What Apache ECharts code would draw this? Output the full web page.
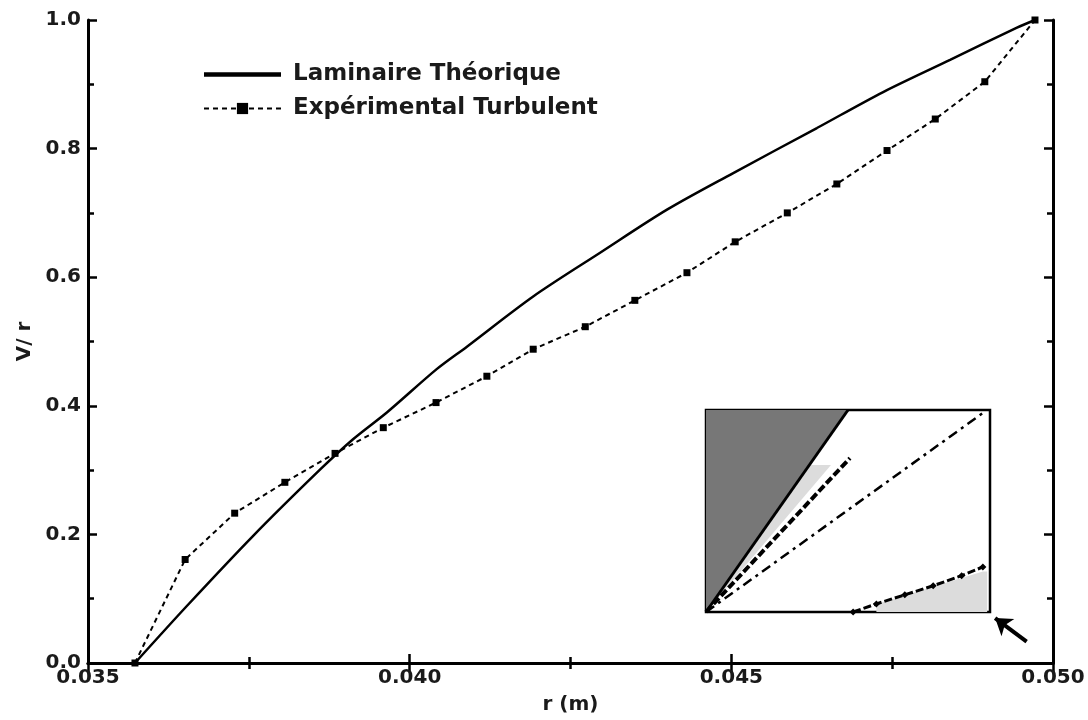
<!DOCTYPE html>
<html><head><meta charset="utf-8">
<script src="https://cdn.jsdelivr.net/npm/echarts@6/dist/echarts.min.js"></script>
<style>html,body{margin:0;padding:0;background:#fff}#c{width:1088px;height:720px}</style>
</head><body><div id="c"></div>
<script>
// ---- main chart data ----
const lamR = [0.03573, 0.03654, 0.03756, 0.03861, 0.03912, 0.03965, 0.04042, 0.04089, 0.04192, 0.04296, 0.04400, 0.04503, 0.04633, 0.04736, 0.04840, 0.04944, 0.04972];
const lamV = [0.000, 0.089, 0.197, 0.301, 0.348, 0.390, 0.457, 0.492, 0.570, 0.638, 0.705, 0.762, 0.832, 0.888, 0.938, 0.988, 1.000];
const expR = [0.03573, 0.03651, 0.03728, 0.03806, 0.03884, 0.03959, 0.04041, 0.04120, 0.04192, 0.04273, 0.04350, 0.04431, 0.04506, 0.04587, 0.04664, 0.04742, 0.04817, 0.04894, 0.04972];
const expV = [0.000, 0.161, 0.233, 0.281, 0.326, 0.366, 0.405, 0.446, 0.488, 0.523, 0.564, 0.607, 0.655, 0.700, 0.745, 0.797, 0.846, 0.904, 1.000];
const seriesNames = ['Laminaire Théorique', 'Expérimental Turbulent'];
const axisNames = { x: 'r (m)', y: 'V/ r' };

// ---- inset (schematic) data, in inset units 0..1 ----
const insetDarkWedge = [[0, 0], [0, 1], [0.5, 1]];
const insetSolidLine = [[0, 0], [0.5, 1]];
const insetLightWedge = [[0, 0], [0.364, 0.728], [0.44, 0.728]];
const insetMarkerLine = [[0, 0], [0.507, 0.762]];
const insetDashDot = [[0, 0], [0.975, 0.985]];
const insetBottomLine = [[0.518, 0], [0.6, 0.04], [0.7, 0.085], [0.8, 0.13], [0.9, 0.18], [0.975, 0.223]];
const insetCornerFill = [[0.6, 0], [0.6, 0.04], [0.975, 0.2], [0.99, 0.2], [0.99, 0]];
const arrowCoords = [[1.129, -0.147], [1.018, -0.03]];

const FONT = 'DejaVu Sans';
const txt = { fontFamily: FONT, fontWeight: 'bold', fontSize: 20, color: '#1a1a1a' };
const zip = (a, b) => a.map((v, i) => [v, b[i]]);

function polySeries(pts, color, z) {
  return {
    type: 'custom', xAxisIndex: 2, yAxisIndex: 2, silent: true, z: z,
    data: pts,
    renderItem: function (params, api) {
      if (params.dataIndex !== 0) return null;
      return { type: 'polygon', shape: { points: pts.map(p => api.coord(p)) }, style: { fill: color } };
    }
  };
}

const frameAxis = (extra) => Object.assign({
  type: 'value', gridIndex: 0,
  axisLine: { show: true, lineStyle: { color: '#000', width: 3 } },
  axisTick: { show: true, inside: true, length: 9, lineStyle: { color: '#000', width: 2.5 } },
  minorTick: { show: true, splitNumber: 2, length: 6, lineStyle: { color: '#000', width: 2.5 } },
  splitLine: { show: false }, minorSplitLine: { show: false }
}, extra);

const chart = echarts.init(document.getElementById('c'), null, { renderer: 'canvas' });
chart.setOption({
  animation: false,
  backgroundColor: '#fff',
  grid: [
    { left: 88, right: 35, top: 20, bottom: 56, show: false },
    { left: 706, top: 410, width: 284, height: 202, show: true, backgroundColor: '#fff', borderColor: '#000', borderWidth: 2.5, z: 3 }
  ],
  legend: {
    orient: 'vertical', left: 198, top: 58, itemWidth: 77, itemHeight: 14, itemGap: 11,
    textStyle: { fontFamily: FONT, fontWeight: 'bold', fontSize: 23, color: '#1a1a1a', lineHeight: 20, padding: [0, 0, 0, 7] },
    data: [
      { name: seriesNames[0], icon: 'path://M0,0H77V4.5H0Z' },
      { name: seriesNames[1], lineStyle: { width: 2, color: '#000', type: [5, 4] } }
    ]
  },
  xAxis: [
    frameAxis({ min: 0.035, max: 0.050, interval: 0.005, position: 'bottom',
      axisLabel: Object.assign({ margin: 5, formatter: v => v.toFixed(3) }, txt),
      name: axisNames.x, nameLocation: 'middle', nameGap: 32, nameTextStyle: txt }),
    frameAxis({ min: 0.035, max: 0.050, interval: 0.005, position: 'top', axisLabel: { show: false } }),
    { type: 'value', gridIndex: 1, min: 0, max: 1, show: false }
  ],
  yAxis: [
    frameAxis({ min: 0, max: 1, interval: 0.2, position: 'left',
      axisLabel: Object.assign({ margin: 7, formatter: v => v.toFixed(1) }, txt),
      name: axisNames.y, nameLocation: 'middle', nameGap: 50, nameTextStyle: txt }),
    frameAxis({ min: 0, max: 1, interval: 0.2, position: 'right', axisLabel: { show: false } }),
    { type: 'value', gridIndex: 1, min: 0, max: 1, show: false }
  ],
  series: [
    {
      name: seriesNames[0], type: 'line', xAxisIndex: 0, yAxisIndex: 0,
      data: zip(lamR, lamV), symbol: 'none', smooth: 0.3,
      lineStyle: { color: '#000', width: 2.5 }, itemStyle: { color: '#000' }, z: 5
    },
    {
      name: seriesNames[1], type: 'line', xAxisIndex: 0, yAxisIndex: 0,
      data: zip(expR, expV), symbol: 'rect', symbolSize: 7, showSymbol: true,
      lineStyle: { color: '#000', width: 2, type: [5, 4] }, itemStyle: { color: '#000' }, z: 5
    },
    polySeries(insetDarkWedge, '#777777', 4),
    polySeries(insetLightWedge, '#dcdcdc', 4),
    polySeries(insetCornerFill, '#dcdcdc', 4),
    { type: 'line', xAxisIndex: 2, yAxisIndex: 2, data: insetSolidLine, symbol: 'none', silent: true, z: 6,
      lineStyle: { color: '#000', width: 3 } },
    { type: 'line', xAxisIndex: 2, yAxisIndex: 2, data: insetMarkerLine, symbol: 'none', silent: true, z: 6,
      lineStyle: { color: '#000', width: 4, type: [8, 3] } },
    { type: 'line', xAxisIndex: 2, yAxisIndex: 2, data: insetDashDot, symbol: 'none', silent: true, z: 6,
      lineStyle: { color: '#000', width: 2.5, type: [10, 5, 3, 5] } },
    { type: 'line', xAxisIndex: 2, yAxisIndex: 2, data: insetBottomLine, symbol: 'diamond', symbolSize: 7, silent: true, z: 6,
      lineStyle: { color: '#000', width: 3, type: [8, 3] }, itemStyle: { color: '#000' } },
    { type: 'lines', coordinateSystem: 'cartesian2d', xAxisIndex: 2, yAxisIndex: 2, clip: false, silent: true, z: 6,
      symbol: ['none', 'arrow'], symbolSize: [0, 16],
      lineStyle: { color: '#000', width: 4, opacity: 1, curveness: 0 },
      data: [{ coords: arrowCoords }] }
  ]
});
</script>
</body></html>
